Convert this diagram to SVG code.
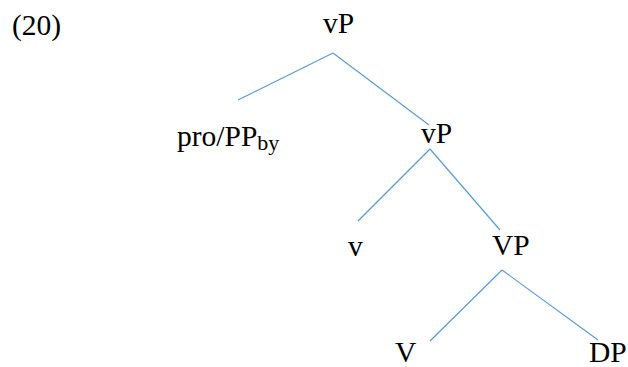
<svg xmlns="http://www.w3.org/2000/svg" width="628" height="367" viewBox="0 0 628 367" font-family="Liberation Serif, Times New Roman, serif">
<style>
text{font-family:'Liberation Serif','Times New Roman',serif;font-size:29.5px;fill:#000}
.sub{font-size:22px}
line{stroke:#5B9BD5;stroke-width:1.2;fill:none}
</style>
<rect width="628" height="367" fill="#fff"/>
<text id="ex" x="12" y="35">(20)</text>
<g id="vP1"><text x="323" y="33">vP</text></g>
<g id="pro"><text x="177" y="146">pro/PP<tspan class="sub" dy="4">by</tspan></text></g>
<g id="vP2"><text x="421" y="143">vP</text></g>
<g id="v"><text x="348" y="256">v</text></g>
<g id="VP"><text x="492" y="255">VP</text></g>
<g id="V"><text x="395" y="362">V</text></g>
<g id="DP"><text x="589" y="362">DP</text></g>
<g id="connectors">
<line x1="333" y1="53" x2="238" y2="100"/>
<line x1="333" y1="53" x2="429" y2="125"/>
<line x1="430" y1="149" x2="358" y2="221"/>
<line x1="430" y1="149" x2="500" y2="230"/>
<line x1="502" y1="270" x2="430" y2="341"/>
<line x1="502" y1="270" x2="598" y2="340"/>
</g>
</svg>
